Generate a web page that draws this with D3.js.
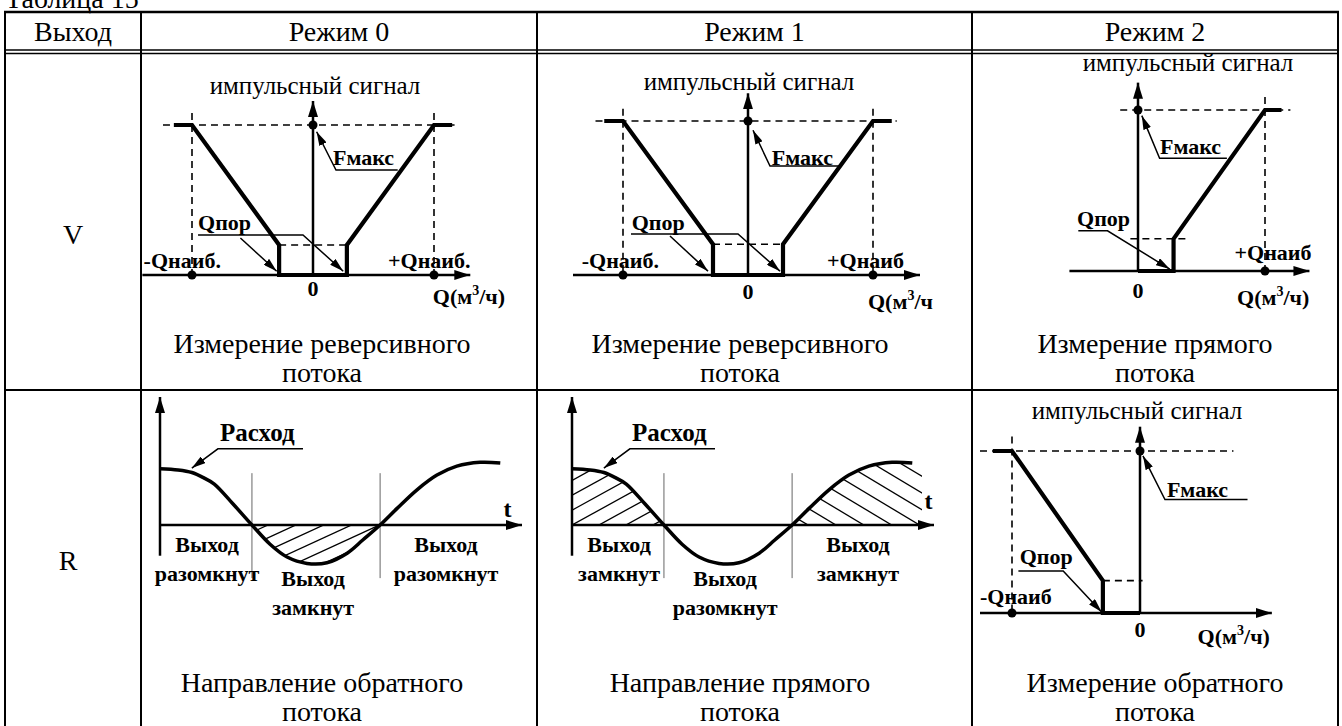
<!DOCTYPE html>
<html><head><meta charset="utf-8">
<script src="https://cdn.jsdelivr.net/npm/d3@7"></script>
<style>
html,body{margin:0;padding:0;background:#fff;}
svg{display:block;}
</style></head><body>
<svg id="c" width="1342" height="726"></svg>
<script>
// ---------------- data ----------------
const title = "Таблица 15";
const headers = ["Выход", "Режим 0", "Режим 1", "Режим 2"];
const rowLabels = ["V", "R"];
const captionsV = [["Измерение реверсивного", "потока"], ["Измерение реверсивного", "потока"], ["Измерение прямого", "потока"]];
const captionsR = [["Направление обратного", "потока"], ["Направление прямого", "потока"], ["Измерение обратного", "потока"]];
const yAxisTitle = "импульсный сигнал";
// transfer functions: Q in units of Qнаиб, F in units of Fмакс
const revQ = [-1.15, -1, -0.28, -0.28, 0.28, 0.28, 1, 1.15];
const revF = [1, 1, 0.2, 0, 0, 0.2, 1, 1];
const fwdQ = [0, 0.28, 0.28, 1, 1.13];
const fwdF = [0, 0, 0.2, 1, 1];
const bwdQ = [-1.15, -1, -0.29, -0.29, 0];
const bwdF = [1, 1, 0.2, 0, 0];
const fMax = 1, fPor = 0.2;
// flow (Расход) vs time t
const flowT = [0, 5, 8.8, 12, 15, 20, 25.4, 30.4, 35.1, 40.6, 46.1, 51.7, 56.1, 60.8, 65.5, 71, 76.5, 82, 88.4, 94];
const flowV = [0.88, 0.86, 0.82, 0.74, 0.64, 0.34, 0, -0.3, -0.5, -0.6, -0.59, -0.44, -0.23, 0, 0.26, 0.55, 0.78, 0.92, 0.98, 0.97];
const switchT = [25.4, 60.8];
const stateLabels0 = [["Выход", "разомкнут"], ["Выход", "замкнут"], ["Выход", "разомкнут"]];
const stateLabels1 = [["Выход", "замкнут"], ["Выход", "разомкнут"], ["Выход", "замкнут"]];

// ---------------- layout ----------------
const SERIF = "Liberation Serif";
const FONT_BIG = 28, FONT_SIG = 25, FONT_LBL = 22;
const colX = [5, 141, 537, 972, 1338];
const capX = [322, 740, 1155];
const rowY = [12, 51.5, 390, 740];
const svg = d3.select("#c");

function txt(g, x, y, s, size, bold, anchor) {
  const t = g.append("text").attr("x", x).attr("y", y)
    .style("font-family", SERIF).attr("font-family", SERIF)
    .attr("font-size", size).attr("fill", "#000").text(s);
  if (bold) t.attr("font-weight", "bold");
  if (anchor) t.attr("text-anchor", anchor);
  return t;
}

const defs = svg.append("defs");
function marker(id, len, wid) {
  defs.append("marker").attr("id", id).attr("markerUnits", "userSpaceOnUse")
    .attr("markerWidth", len).attr("markerHeight", wid).attr("refX", len).attr("refY", wid / 2)
    .attr("orient", "auto")
    .append("path").attr("d", `M0,0L${len},${wid / 2}L0,${wid}Z`).attr("fill", "#000");
}
marker("ax", 16, 10);
marker("ld", 14, 8);

// title (cut at top edge, as in the reference)
txt(svg, 5, 8, title, FONT_BIG, false);

// table grid
const T = svg.append("g").attr("stroke", "#000");
T.append("line").attr("x1", colX[0] - 1).attr("x2", colX[4] + 1).attr("y1", rowY[0]).attr("y2", rowY[0]).attr("stroke-width", 2.5);
[50, 53.5].forEach(y => T.append("line").attr("x1", colX[0]).attr("x2", colX[4]).attr("y1", y).attr("y2", y).attr("stroke-width", 1.6));
T.append("line").attr("x1", colX[0]).attr("x2", colX[4]).attr("y1", rowY[2]).attr("y2", rowY[2]).attr("stroke-width", 2);
colX.forEach(x => T.append("line").attr("x1", x).attr("x2", x).attr("y1", rowY[0]).attr("y2", rowY[3]).attr("stroke-width", 2));

headers.forEach((h, i) => txt(svg, (colX[i] + colX[i + 1]) / 2, 41, h, FONT_BIG, false, "middle"));
txt(svg, 73, 244, rowLabels[0], FONT_BIG, false, "middle");
txt(svg, 68, 570, rowLabels[1], FONT_BIG, false, "middle");

captionsV.forEach((c, i) => { txt(svg, capX[i], 353, c[0], FONT_BIG, false, "middle"); txt(svg, capX[i], 382, c[1], FONT_BIG, false, "middle"); });
captionsR.forEach((c, i) => { txt(svg, capX[i], 692, c[0], FONT_BIG, false, "middle"); txt(svg, capX[i], 721, c[1], FONT_BIG, false, "middle"); });

function seg(g, x1, y1, x2, y2, w, extra) {
  const l = g.append("line").attr("x1", x1).attr("y1", y1).attr("x2", x2).attr("y2", y2)
    .attr("stroke", "#000").attr("stroke-width", w);
  if (extra) extra(l);
  return l;
}
const dashed = l => l.attr("stroke-dasharray", "7,5");
const arrowAx = l => l.attr("marker-end", "url(#ax)");

function qLabel(g, x, y, tail) {
  const t = txt(g, x, y, "", FONT_LBL, true);
  t.append("tspan").text("Q(м");
  t.append("tspan").attr("dy", -9).attr("font-size", 14).text("3");
  t.append("tspan").attr("dy", 9).text(tail);
  return t;
}

// ---------------- transfer function panels ----------------
function transferPanel(c) {
  const x = d3.scaleLinear().domain([0, 1]).range([c.x0, c.x0 + c.kx]);
  const y = d3.scaleLinear().domain([0, 1]).range([c.y0, c.y0 - c.ky]);
  const g = svg.append("g");
  seg(g, x(c.topDash[0]), y(fMax), x(c.topDash[1]), y(fMax), 1.6, dashed);
  c.qMarks.forEach(q => seg(g, x(q), y(c.vDashTop), x(q), y(0), 1.6, dashed));
  seg(g, x(c.porDash[0]), y(fPor), x(c.porDash[1]), y(fPor), 1.6, dashed);
  seg(g, x(c.xAxis[0]), y(0), x(c.xAxis[1]), y(0), 2.5, arrowAx);
  seg(g, x(0), y(0), x(0), y(c.yTop), 2.5, arrowAx);
  const line = d3.line().x(d => x(d[0])).y(d => y(d[1]));
  g.append("path").datum(d3.zip(c.q, c.f)).attr("d", line).attr("fill", "none")
    .attr("stroke", "#000").attr("stroke-width", 4.2).attr("stroke-linejoin", "miter");
  [[0, fMax]].concat(c.qMarks.map(q => [q, 0])).forEach(d =>
    g.append("circle").attr("cx", x(d[0])).attr("cy", y(d[1])).attr("r", 4.5).attr("fill", "#000"));
  txt(g, c.titleX, c.titleY, yAxisTitle, FONT_SIG, false, "middle");
  const F = c.fm;
  txt(g, x(F.tx), y(F.ty), "Fмакс", FONT_LBL, true);
  g.append("path").attr("d", d3.line()([[x(F.u1), y(F.uy)], [x(F.u0), y(F.uy)], [x(F.tip[0]), y(F.tip[1])]]))
    .attr("fill", "none").attr("stroke", "#000").attr("stroke-width", 1.5).attr("marker-end", "url(#ld)");
  const P = c.qp;
  txt(g, x(P.tx), y(P.ty), "Qпор", FONT_LBL, true);
  g.append("path").attr("d", d3.line()([[x(P.u0), y(P.uy)], [x(P.u1), y(P.uy)], [x(P.tip[0]), y(P.tip[1])]]))
    .attr("fill", "none").attr("stroke", "#000").attr("stroke-width", 1.5).attr("marker-end", "url(#ld)");
  if (P.a2) seg(g, x(P.a2[0]), y(P.a2[1]), x(P.a2[2]), y(P.a2[3]), 1.5, l => l.attr("marker-end", "url(#ld)"));
  c.qn.forEach(d => txt(g, x(d[0]), y(d[1]), d[2], FONT_LBL, true));
  txt(g, x(0), y(c.zeroY), "0", FONT_LBL, true, "middle");
  qLabel(g, x(c.qlab[0]), y(c.qlab[1]), c.qlab[2]);
}

transferPanel({
  x0: 313, kx: 121, y0: 275, ky: 150, q: revQ, f: revF,
  topDash: [-1.24, 1.17], qMarks: [-1, 1], vDashTop: 1.08, porDash: [-0.28, 0.28],
  xAxis: [-1.41, 1.30], yTop: 1.16, titleX: 315, titleY: 94,
  fm: { tx: 0.165, ty: 0.735, u0: 0.19, u1: 0.70, uy: 0.70, tip: [0.03, 0.955] },
  qp: { tx: -0.95, ty: 0.3, u0: -0.95, u1: -0.083, uy: 0.267, tip: [0.25, 0.025], a2: [-0.60, 0.247, -0.30, 0.025] },
  qn: [[-1.40, 0.05, "-Qнаиб."], [0.62, 0.05, "+Qнаиб."]],
  zeroY: -0.14, qlab: [0.99, -0.19, "/ч)"]
});
transferPanel({
  x0: 748, kx: 125, y0: 275, ky: 154, q: revQ, f: revF,
  topDash: [-1.22, 1.19], qMarks: [-1, 1], vDashTop: 1.08, porDash: [-0.28, 0.28],
  xAxis: [-1.40, 1.376], yTop: 1.18, titleX: 749, titleY: 90,
  fm: { tx: 0.19, ty: 0.715, u0: 0.176, u1: 0.736, uy: 0.708, tip: [0.04, 0.94] },
  qp: { tx: -0.93, ty: 0.295, u0: -0.936, u1: -0.08, uy: 0.266, tip: [0.256, 0.025], a2: [-0.624, 0.253, -0.32, 0.025] },
  qn: [[-1.33, 0.045, "-Qнаиб."], [0.632, 0.045, "+Qнаиб"]],
  zeroY: -0.156, qlab: [0.96, -0.22, "/ч"]
});
transferPanel({
  x0: 1138, kx: 127, y0: 271, ky: 161, q: fwdQ, f: fwdF,
  topDash: [-0.14, 1.20], qMarks: [1], vDashTop: 1.08, porDash: [-0.06, 0.39],
  xAxis: [-0.54, 1.35], yTop: 1.17, titleX: 1188, titleY: 71,
  fm: { tx: 0.173, ty: 0.727, u0: 0.17, u1: 0.70, uy: 0.70, tip: [0.03, 0.965] },
  qp: { tx: -0.48, ty: 0.28, u0: -0.47, u1: -0.24, uy: 0.25, tip: [0.25, 0.012] },
  qn: [[0.76, 0.068, "+Qнаиб"]],
  zeroY: -0.17, qlab: [0.78, -0.21, "/ч)"]
});
transferPanel({
  x0: 1140, kx: 128, y0: 613, ky: 162, q: bwdQ, f: bwdF,
  topDash: [-1.25, 0.73], qMarks: [-1], vDashTop: 1.09, porDash: [-0.29, 0.02],
  xAxis: [-1.25, 1.03], yTop: 1.15, titleX: 1137, titleY: 419,
  fm: { tx: 0.21, ty: 0.716, u0: 0.195, u1: 0.84, uy: 0.70, tip: [0.023, 0.97] },
  qp: { tx: -0.94, ty: 0.30, u0: -0.95, u1: -0.6, uy: 0.26, tip: [-0.30, 0.006] },
  qn: [[-1.25, 0.056, "-Qнаиб"]],
  zeroY: -0.148, qlab: [0.45, -0.19, "/ч)"]
});

// ---------------- flow panels ----------------
let clipId = 0;
function flowPanel(c) {
  const x = d3.scaleLinear().domain([0, 100]).range([c.xs, c.xs + 362]);
  const y = d3.scaleLinear().domain([0, 1]).range([c.y0, c.y0 - 64]);
  const g = svg.append("g");
  const pts = d3.zip(flowT, flowV);
  const crv = d3.curveCatmullRom.alpha(0.5);
  c.hatch.forEach(h => {
    const idA = "ca" + (clipId++), idB = "cb" + (clipId++);
    const cpA = defs.append("clipPath").attr("id", idA);
    cpA.append("path").attr("d", d3.area().x(d => x(d[0])).y0(y(0)).y1(d => y(d[1])).curve(crv)(pts));
    if (h.ext) cpA.append("rect").attr("x", x(h.ext[0])).attr("width", x(h.ext[1]) - x(h.ext[0]))
      .attr("y", y(h.ext[2])).attr("height", y(0) - y(h.ext[2]));
    const cpB = defs.append("clipPath").attr("id", idB);
    cpB.append("rect").attr("x", x(h.t0)).attr("width", x(h.t1) - x(h.t0))
      .attr("y", h.above ? y(3) : y(0)).attr("height", y(0) - y(3));
    const hg = g.append("g").attr("clip-path", `url(#${idB})`).append("g").attr("clip-path", `url(#${idA})`);
    d3.range(h.start, h.end, h.step).forEach(ta => {
      const xa = x(ta), s = h.slope, L = 200;
      hg.append("line").attr("x1", xa - L).attr("y1", y(0) + s * L).attr("x2", xa + L).attr("y2", y(0) - s * L)
        .attr("stroke", "#000").attr("stroke-width", 1.3);
    });
  });
  switchT.forEach(t => seg(g, x(t), y(0.81), x(t), y(-0.83), 1, l => l.attr("stroke", "#666")));
  seg(g, x(0), y(0), x(100), y(0), 2.5, arrowAx);
  seg(g, x(0), y(-0.48), x(0), y(2.0), 2.5, arrowAx);
  g.append("path").datum(pts).attr("d", d3.line().x(d => x(d[0])).y(d => y(d[1])).curve(crv))
    .attr("fill", "none").attr("stroke", "#000").attr("stroke-width", 3.5);
  txt(g, x(c.tLab[0]), y(c.tLab[1]), "t", 24, true, "middle");
  txt(g, x(16.6), y(1.32), "Расход", 25, true);
  g.append("path").attr("d", d3.line()([[x(39.5), y(1.19)], [x(16), y(1.19)], [x(8.8), y(0.89)]]))
    .attr("fill", "none").attr("stroke", "#000").attr("stroke-width", 1.5).attr("marker-end", "url(#ld)");
  const pos = [[13, -0.42, -0.875], [42.3, -0.95, -1.40], [79, -0.42, -0.875]];
  c.states.forEach((s, i) => {
    txt(g, x(pos[i][0]), y(pos[i][1]), s[0], 22, true, "middle");
    txt(g, x(pos[i][0]), y(pos[i][2]), s[1], 22, true, "middle");
  });
}
flowPanel({
  xs: 160, y0: 525, states: stateLabels0, tLab: [96, 0.12],
  hatch: [{ t0: 25.4, t1: 60.8, above: false, slope: 0.46, start: 29.8 - 7.7 * 6, end: 110, step: 7.7 }]
});
flowPanel({
  xs: 572, y0: 525, states: stateLabels1, tLab: [98.5, 0.25],
  hatch: [
    { t0: 0, t1: 25.4, above: true, slope: 0.55, start: -7.46 * 8, end: 40, step: 7.46 },
    { t0: 60.8, t1: 96.7, above: true, slope: -0.6, start: 65.2 - 7.7 * 3, end: 130, step: 7.7, ext: [93.5, 96.7, 0.97] }
  ]
});
</script>
</body></html>
